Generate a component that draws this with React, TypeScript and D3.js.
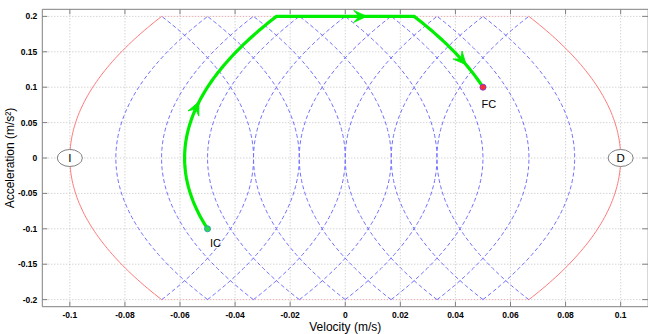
import * as d3 from "d3";

const X_TICKS = [-0.1, -0.08, -0.06, -0.04, -0.02, 0, 0.02, 0.04, 0.06, 0.08, 0.1];
const Y_TICKS = [-0.2, -0.15, -0.1, -0.05, 0, 0.05, 0.1, 0.15, 0.2];

const JERK = 0.6; // m/s^3
const A_MAX = 0.2;
const V_MAX = 0.1;

// velocity where each dashed jerk curve crosses a = 0
const RIGHT_CUSPS = [-0.0833, -0.0667, -0.05, -0.0333, -0.0167, 0, 0.0167, 0.0333];
const LEFT_CUSPS = [-0.0333, -0.0167, 0, 0.0167, 0.0333, 0.05, 0.0667, 0.0833];

const IC = { v: -0.05, a: -0.1 };
const FC = { v: 0.05, a: 0.1 };
const CRUISE = [-0.025, 0.025]; // velocity span held at a = A_MAX

// arrow positions along the trajectory: [phase, parameter]
const ARROWS: [number, number][] = [
  [0, 0.073],
  [1, 0.006],
  [2, 0.137],
];

const W = 648;
const H = 334;

const x = d3.scaleLinear().domain([-0.11, 0.11]).range([42.3, 648.2]);
const y = d3.scaleLinear().domain([-0.21, 0.21]).range([306.7, 9.3]);

const line = d3
  .line<[number, number]>()
  .x((d) => x(d[0]))
  .y((d) => y(d[1]));

const aSteps = d3.range(-A_MAX, A_MAX + 1e-9, 0.004);

// v as a function of a on a constant-jerk arc through (c, 0)
const arc = (c: number, sign: number) =>
  aSteps.map((a) => [c + (sign * a * a) / (2 * JERK), a] as [number, number]);

// trajectory phases, each maps a parameter to [v, a]
const phase0 = (a: number): [number, number] => [IC.v + (a * a - IC.a * IC.a) / (2 * JERK), a];
const phase1 = (v: number): [number, number] => [v, A_MAX];
const phase2 = (a: number): [number, number] => [CRUISE[1] + (A_MAX * A_MAX - a * a) / (2 * JERK), a];
const phases = [phase0, phase1, phase2];

const greenPts: [number, number][] = [
  ...d3.range(IC.a, A_MAX + 1e-9, 0.004).map(phase0),
  phase1(CRUISE[0]),
  phase1(CRUISE[1]),
  ...d3.range(A_MAX, FC.a - 1e-9, -0.004).map(phase2),
  phase2(FC.a),
];

function arrowHead(ph: number, t: number) {
  const f = phases[ph];
  const dir = ph === 2 ? -1 : 1;
  const p0 = f(t - dir * 0.002);
  const p1 = f(t + dir * 0.002);
  const px = x(p1[0]) - x(p0[0]);
  const py = y(p1[1]) - y(p0[1]);
  const ang = (Math.atan2(py, px) * 180) / Math.PI;
  const p = f(t);
  const L = 13;
  const Wd = 6;
  return (
    <path
      key={`${ph}-${t}`}
      d={`M5,0 L${5 - L},${Wd} L${5 - L * 0.6},0 L${5 - L},${-Wd} Z`}
      transform={`translate(${x(p[0])},${y(p[1])}) rotate(${ang})`}
      fill="#00ee00"
      stroke="#00ee00"
      strokeWidth={0.8}
      strokeLinejoin="miter"
    />
  );
}

const tickFont = {
  fontFamily: "'Liberation Sans', Arial, sans-serif",
  fontWeight: 700,
  fontSize: 8.5,
};

export default function App() {
  const [x0, x1] = x.range();
  const [y0, y1] = y.range();
  const redEnd = V_MAX - (A_MAX * A_MAX) / (2 * JERK);

  return (
    <svg
      width={W}
      height={H}
      style={{ position: "absolute", left: 0, top: 0, background: "#fff" }}
    >
      {/* grid */}
      <g stroke="#b4b4b4" strokeWidth={0.8} strokeDasharray="1,2">
        {X_TICKS.map((t) => (
          <line key={t} x1={x(t)} x2={x(t)} y1={y1} y2={y0} />
        ))}
        {Y_TICKS.map((t) => (
          <line key={t} x1={x0} x2={x1} y1={y(t)} y2={y(t)} />
        ))}
      </g>

      {/* boundary */}
      <g fill="none" stroke="#ff7a7a" strokeWidth={1}>
        <path d={line(arc(-V_MAX, 1)) ?? ""} />
        <path d={line(arc(V_MAX, -1)) ?? ""} />
        <path
          d={line([[-redEnd, A_MAX], [redEnd, A_MAX]]) ?? ""}
          strokeDasharray="1,2"
          strokeOpacity={0.6}
        />
        <path
          d={line([[-redEnd, -A_MAX], [redEnd, -A_MAX]]) ?? ""}
          strokeDasharray="1,2"
          strokeOpacity={0.6}
        />
      </g>

      {/* jerk curves */}
      <g fill="none" stroke="#7070ff" strokeWidth={1} strokeDasharray="4,2.5">
        {RIGHT_CUSPS.map((c) => (
          <path key={`r${c}`} d={line(arc(c, 1)) ?? ""} />
        ))}
        {LEFT_CUSPS.map((c) => (
          <path key={`l${c}`} d={line(arc(c, -1)) ?? ""} />
        ))}
      </g>

      {/* trajectory */}
      <path
        d={line(greenPts) ?? ""}
        fill="none"
        stroke="#00ee00"
        strokeWidth={3.2}
        strokeLinejoin="round"
      />
      {ARROWS.map(([ph, t]) => arrowHead(ph, t))}

      <circle cx={x(IC.v)} cy={y(IC.a)} r={3} fill="#22dd44" stroke="#3aa0b0" strokeWidth={1} />
      <circle cx={x(FC.v)} cy={y(FC.a)} r={3} fill="#ff2a2a" stroke="#8a3ad0" strokeWidth={1} />

      <g style={{ fontFamily: "'Liberation Sans', Arial, sans-serif", fontSize: 11 }} fill="#000">
        <text x={x(IC.v) + 8} y={y(IC.a) + 18} textAnchor="middle">IC</text>
        <text x={x(FC.v) + 6} y={y(FC.a) + 21} textAnchor="middle">FC</text>
      </g>

      {/* end markers */}
      {[
        [-V_MAX, "I"],
        [V_MAX, "D"],
      ].map(([v, s]) => (
        <g key={s as string} transform={`translate(${x(v as number)},${y(0)})`}>
          <ellipse rx={12.5} ry={8.5} fill="#fff" stroke="#808080" strokeWidth={1} />
          <text
            y={4}
            textAnchor="middle"
            style={{ fontFamily: "'Liberation Sans', Arial, sans-serif", fontSize: 11.5 }}
          >
            {s as string}
          </text>
        </g>
      ))}

      {/* axes box and ticks */}
      <g stroke="#808080" strokeWidth={1}>
        <line x1={x0} x2={x0} y1={y1} y2={y0} />
        <line x1={x1} x2={x1} y1={y1} y2={y0} />
        <line x1={x0} x2={x1} y1={y0} y2={y0} />
        <line x1={x0} x2={x1} y1={y1} y2={y1} />
        {X_TICKS.map((t) => (
          <g key={t}>
            <line x1={x(t)} x2={x(t)} y1={y0} y2={y0 - 5} />
            <line x1={x(t)} x2={x(t)} y1={y1} y2={y1 + 5} />
          </g>
        ))}
        {Y_TICKS.map((t) => (
          <g key={t}>
            <line x1={x0} x2={x0 + 5} y1={y(t)} y2={y(t)} />
            <line x1={x1} x2={x1 - 6} y1={y(t)} y2={y(t)} />
          </g>
        ))}
      </g>

      <g style={tickFont} fill="#000">
        {X_TICKS.map((t) => (
          <text key={t} x={x(t)} y={y0 + 11} textAnchor="middle">
            {String(t)}
          </text>
        ))}
        {Y_TICKS.map((t) => (
          <text key={t} x={x0 - 5} y={y(t) + 3} textAnchor="end">
            {String(t)}
          </text>
        ))}
      </g>

      <g style={{ fontFamily: "'Liberation Sans', Arial, sans-serif", fontSize: 12 }} fill="#000">
        <text x={(x0 + x1) / 2} y={y0 + 24} textAnchor="middle">
          Velocity (m/s)
        </text>
        <text transform={`translate(14,${(y0 + y1) / 2}) rotate(-90)`} textAnchor="middle">
          Acceleration (m/s²)
        </text>
      </g>
    </svg>
  );
}
